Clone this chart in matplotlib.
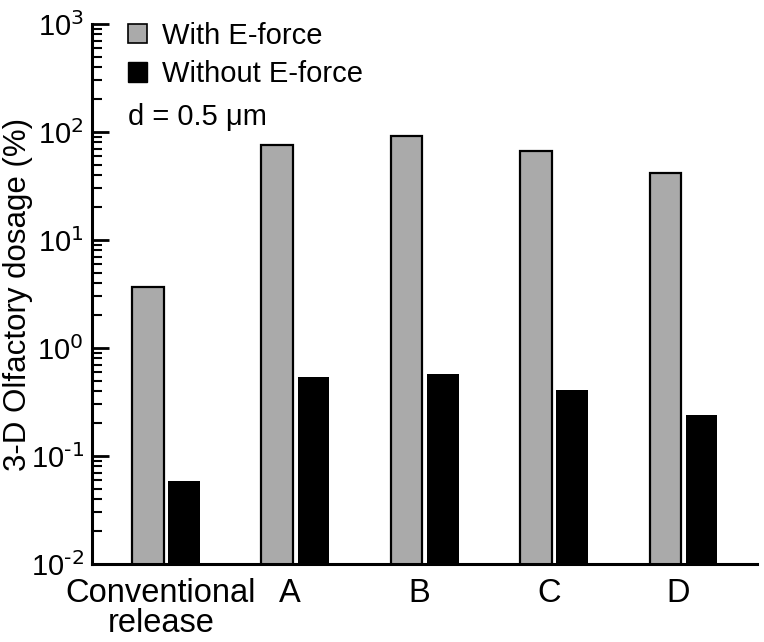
import numpy as np
import matplotlib.pyplot as plt
from matplotlib.patches import Patch
from matplotlib.ticker import FuncFormatter

plt.rcParams['font.family'] = ['Liberation Sans', 'DejaVu Sans']
plt.rcParams['mathtext.default'] = 'regular'
plt.rcParams['axes.unicode_minus'] = False

categories = ['Conventional\nrelease', 'A', 'B', 'C', 'D']
with_eforce = [3.67, 75.8, 91.8, 66.7, 41.7]
without_eforce = [0.0587, 0.54, 0.575, 0.408, 0.24]

fig = plt.figure(figsize=(7.64, 6.42), dpi=100)
ax = fig.add_axes([0.1204, 0.1215, 0.8704, 0.8411])

x = np.arange(len(categories))
w = 0.245
ax.bar(x - 0.14, with_eforce, w, color='#aaaaaa', edgecolor='black', linewidth=1.6)
ax.bar(x + 0.14, without_eforce, w, color='black', edgecolor='black', linewidth=0)

ax.set_yscale('log')
ax.set_ylim(1e-2, 1e3)
ax.set_xlim(-0.572, 4.568)
ax.set_xticks(x - 0.04)
ax.set_xticklabels(categories, fontsize=23.5, linespacing=0.95)


def log_fmt(v, pos):
    e = int(round(np.log10(v)))
    return r'$10^{\text{%d}}$' % e


ax.yaxis.set_major_formatter(FuncFormatter(log_fmt))
ax.tick_params(axis='x', length=0, pad=10)
ax.tick_params(axis='y', which='major', direction='in', length=12, width=2, labelsize=21, pad=6)
ax.tick_params(axis='y', which='minor', direction='in', length=7, width=1.5)

for s in ['top', 'right']:
    ax.spines[s].set_visible(False)
for s in ['left', 'bottom']:
    ax.spines[s].set_linewidth(2.2)

ax.set_ylabel('3-D Olfactory dosage (%)', fontsize=22.5)
ax.yaxis.set_label_coords(-0.089, 0.5)

handles = [Patch(facecolor='#aaaaaa', edgecolor='black', linewidth=1.2),
           Patch(facecolor='black', edgecolor='black')]
ax.legend(handles, ['With E-force', 'Without E-force'], loc='upper left',
          bbox_to_anchor=(0.054, 1.004), frameon=False, fontsize=21,
          handlelength=0.66, handleheight=0.66, handletextpad=0.52,
          labelspacing=0.36, borderpad=0, borderaxespad=0)
ax.text(0.054, 0.828, 'd = 0.5 μm', transform=ax.transAxes, fontsize=21, va='center', ha='left')

fig.savefig('out.png', dpi=100)
